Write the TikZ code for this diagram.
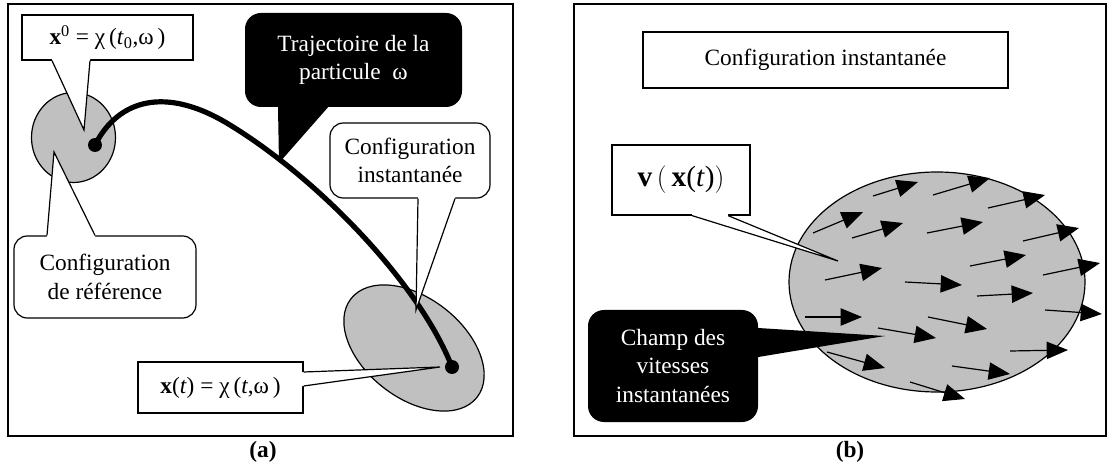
\documentclass[tikz,border=0pt]{standalone}
\usepackage{fontspec}
\setmainfont{Liberation Serif}
\usepackage{xcolor}
\usepackage{tikz}
\usetikzlibrary{calc,arrows.meta}
\definecolor{shade}{RGB}{192,192,192}

\begin{document}
\begin{tikzpicture}[x=0.75pt,y=0.75pt,yscale=-1,xscale=1,
  txt/.style={font=\fontsize{17.5}{21.5}\selectfont, align=center, inner sep=0pt},
  wbox/.style={txt, draw, fill=white, line width=0.9pt},
  rbox/.style={wbox, rounded corners=10pt},
  bbox/.style={txt, fill=black, text=white, rounded corners=12pt},
  dot/.style={circle, fill=black, inner sep=0pt, minimum size=10.5pt},
  frame/.style={line width=1.2pt},
  side/.style={line width=0.9pt},
  vel/.style={line width=0.9pt, -{Triangle[length=16pt,width=13pt]}},
  traj/.style={line width=3.9pt},
  lab/.style={font=\fontsize{17.5}{21}\selectfont\bfseries, inner sep=0pt}]
\useasboundingbox (0,0) rectangle (1110,470);

%Shape: Rectangle [panel a]
\draw[frame] (8,4) rectangle (513,436);
%Shape: Rectangle [panel b]
\draw[frame] (574,4) rectangle (1106,436);

%Shape: Ellipse [reference configuration]
\draw[side, fill=shade] (73.5,137.5) ellipse [x radius=42, y radius=45];
%Shape: Ellipse [current configuration]
\draw[side, fill=shade, rotate around={38:(414,348)}] (414,348) ellipse [x radius=80, y radius=50];

%Shape: Circle [particle positions]
\node[dot] (dotA) at (95,145) {};
\node[dot] (dotB) at (452,367) {};
%Curve Lines [trajectory]
\draw[traj] (dotA.center) .. controls (118,100) and (165,85) .. (230,125) .. controls (320,180) and (420,285) .. (dotB.center);

% Callout: x^0
\node[wbox, minimum width=128.25pt, minimum height=33.75pt] (xzero) at (107.5,37.5) {\textbf{x}\textsuperscript{0} = χ\,(\textit{t}\textsubscript{0},ω\,)};
\coordinate (tipX) at (84,130);
\fill[white] ($(xzero.south)+(-55.5,-2)$) -- ($(xzero.south)+(-55.5,0)$) -- (tipX) -- ($(xzero.south)+(-17.5,0)$) -- ($(xzero.south)+(-17.5,-2)$) -- cycle;
\draw[side] ($(xzero.south)+(-55.5,0)$) -- (tipX) -- ($(xzero.south)+(-17.5,0)$);

% Callout: reference configuration
\node[rbox, minimum width=136.5pt, minimum height=61.5pt] (cref) at (105,277) {Configuration\\de référence};
\coordinate (tipR) at (54,152);
\fill[white] ($(cref.north)+(-58,2)$) -- ($(cref.north)+(-58,0)$) -- (tipR) -- ($(cref.north)+(-10,0)$) -- ($(cref.north)+(-10,2)$) -- cycle;
\draw[side] ($(cref.north)+(-58,0)$) -- (tipR) -- ($(cref.north)+(-10,0)$);

% Callout: trajectory
\node[bbox, minimum width=162.75pt, minimum height=70.5pt] (trajc) at (353.5,60) {Trajectoire de la\\particule~~ω};
\coordinate (tipT) at (279,163);
\fill[black] ($(trajc.south)+(-75.5,-4)$) -- ($(trajc.south)+(-75.5,0)$) -- (tipT) -- ($(trajc.south)+(-25.5,0)$) -- ($(trajc.south)+(-25.5,-4)$) -- cycle;

% Callout: current configuration
\node[rbox, minimum width=120pt, minimum height=56.25pt] (cinst) at (410,160.5) {Configuration\\instantanée};
\coordinate (tipI) at (416,310);
\fill[white] ($(cinst.south)+(8,-2)$) -- ($(cinst.south)+(8,0)$) -- (tipI) -- ($(cinst.south)+(45,0)$) -- ($(cinst.south)+(45,-2)$) -- cycle;
\draw[side] ($(cinst.south)+(8,0)$) -- (tipI) -- ($(cinst.south)+(45,0)$);

% Callout: x(t)
\node[wbox, minimum width=123.75pt, minimum height=38.25pt] (xt) at (220.5,387.5) {\textbf{x}(\textit{t}) = χ\,(\textit{t},ω\,)};
\coordinate (tipXt) at (440,367);
\fill[white] ($(xt.east)+(-2,-15.5)$) -- ($(xt.east)+(0,-15.5)$) -- (tipXt) -- ($(xt.east)+(0,-1.5)$) -- ($(xt.east)+(-2,-1.5)$) -- cycle;
\draw[side] ($(xt.east)+(0,-15.5)$) -- (tipXt) -- ($(xt.east)+(0,-1.5)$);

% Text Node
\node[lab] (labA) at (263,452) {(a)};

%Shape: Ellipse [velocity field]
\draw[side, fill=shade] (937,282) ellipse [x radius=148, y radius=110];
\foreach \xa/\ya/\xb/\yb in {873/196/918/182, 933/195/990/178, 988/208/1045/195, 813/233/863/212,
  852/238/903/223, 927/233/983/222, 1023/241/1079/228, 825/280/882/268, 970/266/1026/255,
  1043/275/1100/263, 905/282/962/285, 977/296/1033/293, 805/317/862/317, 928/317/987/329,
  1045/310/1102/314, 878/328/936/338, 827/352/885/368, 952/366/1010/374, 1010/351/1068/350,
  910/382/965/399}
  \draw[vel] (\xa,\ya) -- (\xb,\yb);

% Text Node: instantaneous configuration
\node[wbox, minimum width=273.75pt, minimum height=42pt] (cinstB) at (825.5,60) {Configuration instantanée};

% Callout: v(x(t))
\node[wbox, minimum width=103.5pt, minimum height=52.5pt, font=\fontsize{22}{26}\selectfont] (vel) at (681,180) {\textbf{v}$\,\Bigl($\,\textbf{x}(\textit{t})$\Bigr)$};
\coordinate (tipV) at (838,261);
\fill[white] ($(vel.south)+(11,-2)$) -- ($(vel.south)+(11,0)$) -- (tipV) -- ($(vel.south)+(47,0)$) -- ($(vel.south)+(47,-2)$) -- cycle;
\draw[side] ($(vel.south)+(11,0)$) -- (tipV) -- ($(vel.south)+(47,0)$);

% Callout: velocity field
\node[bbox, minimum width=127.5pt, minimum height=84pt] (champ) at (673,366) {Champ des\\vitesses\\instantanées};
\coordinate (tipC) at (885,336);
\fill[black] ($(champ.east)+(-4,-38)$) -- ($(champ.east)+(0,-38)$) -- (tipC) -- ($(champ.east)+(0,-9)$) -- ($(champ.east)+(-4,-9)$) -- cycle;

% Text Node
\node[lab] (labB) at (850,452) {(b)};
\end{tikzpicture}
\end{document}
